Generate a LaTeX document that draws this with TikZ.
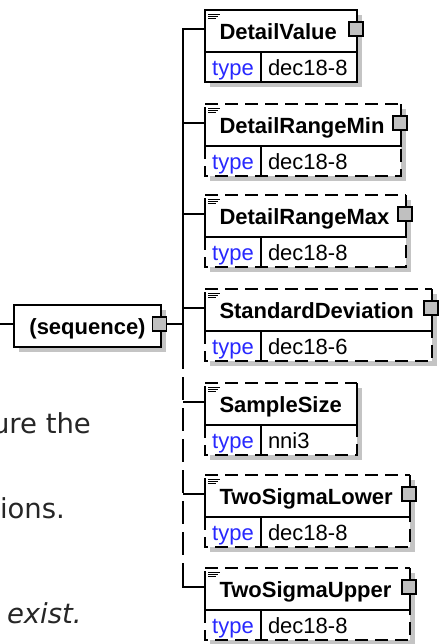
\documentclass[tikz,border=0pt]{standalone}
\usepackage{fontspec}
\setmainfont{Liberation Sans}
\newfontfamily\pagefont{DejaVu Sans}
\usetikzlibrary{positioning,shadows}

\definecolor{sombra}{RGB}{196,196,196}
\definecolor{azultipo}{RGB}{40,40,255}
\definecolor{grismarca}{RGB}{192,192,192}

\begin{document}
\begin{tikzpicture}[
    x=0.5pt, y=-0.5pt,
    line width=0.9pt,
    every node/.style={inner sep=0pt, outer sep=0pt},
    sombreada/.style={drop shadow={shadow xshift=2.5pt, shadow yshift=-2.5pt,
        fill=sombra, opacity=1}},
    cab/.style={anchor=north west, fill=white, sombreada, minimum height=21pt,
        text height=8pt, text depth=0pt, inner xsep=7.25pt, align=left,
        font=\fontsize{11}{13}\selectfont\bfseries},
    celda/.style={fill=white, sombreada, minimum height=15pt,
        text height=8pt, text depth=0pt, font=\fontsize{11}{13}\selectfont},
    tipo/.style={celda, minimum width=28pt, text=azultipo},
    valor/.style={celda, inner xsep=3.5pt, align=left},
    marca/.style={draw, fill=grismarca, line width=0.7pt, minimum size=7pt},
    rayas/.style={dash pattern=on 6.5pt off 3.5pt},
    tronco/.style={dash pattern=on 11.5pt off 4pt},
    pagina/.style={anchor=base west, text=black!85,
        font=\pagefont\fontsize{13.75}{16}\selectfont}
]
\useasboundingbox (0,0) rectangle (439,644);

% Texto de la pagina de fondo
\node[pagina] (f1) at (-8,433) {ure the};
\node[pagina] (f2) at (0,518) {ions.};
\node[pagina] (f3) at (7,623) {\itshape exist.};

% Secuencia
\node[cab, draw, minimum width=73.5pt, align=center, text width=59pt]
    (seq) at (14,305) {(sequence)};
\node[marca] (seq-q) at ([xshift=-0.75pt,yshift=-9.5pt]seq.north east) {};

% Elementos
\node[cab, draw, text width=61.5pt] (dv) at (205,10) {DetailValue};
\node[tipo, draw, below right=0pt and 0pt of dv.south west] (dv-t) {type};
\node[valor, draw, text width=41pt, right=0pt of dv-t] (dv-v) {dec18-8};

\node[cab, text width=83.5pt] (min) at (205,104) {DetailRangeMin};
\node[tipo, below right=0pt and 0pt of min.south west] (min-t) {type};
\node[valor, text width=63pt, right=0pt of min-t] (min-v) {dec18-8};

\node[cab, text width=86pt] (max) at (205,195) {DetailRangeMax};
\node[tipo, below right=0pt and 0pt of max.south west] (max-t) {type};
\node[valor, text width=65.5pt, right=0pt of max-t] (max-v) {dec18-8};

\node[cab, text width=99pt] (sd) at (205,289) {StandardDeviation};
\node[tipo, below right=0pt and 0pt of sd.south west] (sd-t) {type};
\node[valor, text width=78.5pt, right=0pt of sd-t] (sd-v) {dec18-6};

\node[cab, text width=61.5pt] (ss) at (205,383) {SampleSize};
\node[tipo, below right=0pt and 0pt of ss.south west] (ss-t) {type};
\node[valor, text width=41pt, right=0pt of ss-t] (ss-v) {nni3};

\node[cab, text width=88pt] (tsl) at (205,475) {TwoSigmaLower};
\node[tipo, below right=0pt and 0pt of tsl.south west] (tsl-t) {type};
\node[valor, text width=67.5pt, right=0pt of tsl-t] (tsl-v) {dec18-8};

\node[cab, text width=88pt] (tsu) at (205,568) {TwoSigmaUpper};
\node[tipo, below right=0pt and 0pt of tsu.south west] (tsu-t) {type};
\node[valor, text width=67.5pt, right=0pt of tsu-t] (tsu-v) {dec18-8};

% Bordes de los opcionales
\foreach \e in {min,max,sd,ss,tsl,tsu} {
    \draw[rayas] (\e.north west) -- (\e.north east);
    \draw ([yshift=-1.5pt]\e.north west) -- (\e.south west) -- (\e.south east)
        -- (\e.north east);
    \draw[rayas] (\e.south west) -- (\e-t.south west) -- (\e-v.south east)
        -- (\e.south east);
    \draw (\e-t.north east) -- (\e-t.south east);
}

% Iconos y marcas
\foreach \e in {dv,min,max,sd,ss,tsl,tsu} {
    \draw[line width=0.5pt] ([shift={(1.5pt,-2pt)}]\e.north west) -- ++(6pt,0)
        ([shift={(1.5pt,-3pt)}]\e.north west) -- ++(5pt,0)
        ([shift={(1.5pt,-4pt)}]\e.north west) -- ++(4pt,0);
    \coordinate (\e-in) at ([yshift=-9.5pt]\e.north west);
}
\foreach \e in {dv,min,max,sd,tsl,tsu}
    \node[marca] (\e-q) at ([xshift=-0.5pt,yshift=-9.5pt]\e.north east) {};

% Conectores
\coordinate (ent) at (0,324);
\coordinate (eje) at (183,324);
\coordinate (corte) at (183,346);
\draw (ent) -- (ent -| seq.west);
\draw (seq-q.east) -- (eje);
\draw (dv-in) -- (eje |- dv-in) -- (corte);
\draw[tronco] (corte) -- ([yshift=6pt]eje |- tsu-in);
\draw ([yshift=6pt]eje |- tsu-in) -- (eje |- tsu-in) -- (tsu-in);
\foreach \e in {min,max,sd,ss,tsl}
    \draw (eje |- \e-in) -- (\e-in);

\end{tikzpicture}
\end{document}
